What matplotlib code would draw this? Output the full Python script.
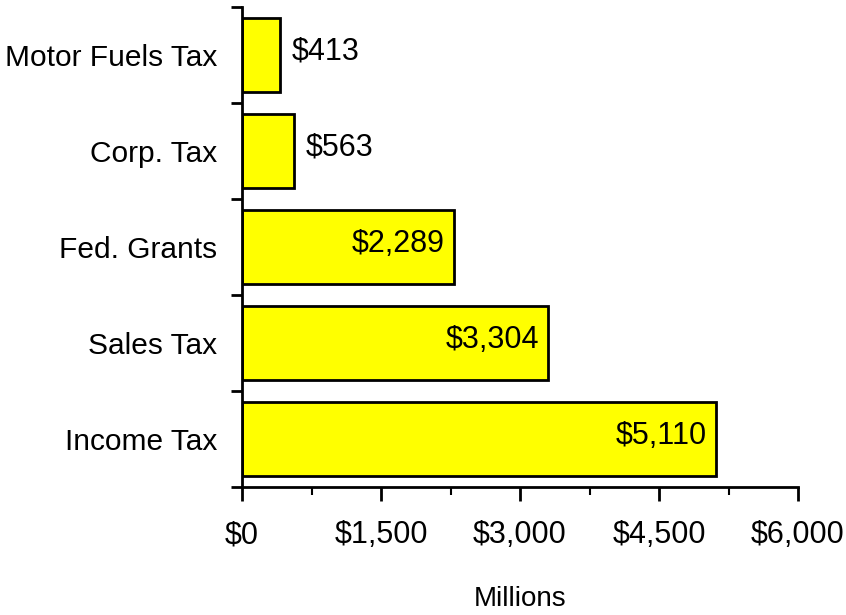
import matplotlib
matplotlib.use("Agg")
import matplotlib.pyplot as plt
from matplotlib.ticker import FuncFormatter, MultipleLocator

plt.rcParams['font.family'] = ['Liberation Sans', 'DejaVu Sans']

categories = ["Income Tax", "Sales Tax", "Fed. Grants", "Corp. Tax", "Motor Fuels Tax"]
revenue = [5110, 3304, 2289, 563, 413]
x_ticks = [0, 1500, 3000, 4500, 6000]

fig = plt.figure(figsize=(8.46, 6.15), dpi=100)
ax = fig.add_axes([242 / 846, 1 - 487 / 615, 556 / 846, 480 / 615])

pos = list(range(len(categories)))
ax.barh(pos, revenue, height=0.77, color="#ffff00", edgecolor="black", linewidth=2)

# value labels: inside the bar when it is wide enough, otherwise just past its end
for y, v in zip(pos, revenue):
    txt = f"${v:,}"
    if v > 1500:
        ax.annotate(txt, (v, y), xytext=(-6.5, 2.5), textcoords="offset points",
                    ha="right", va="center", fontsize=22)
    else:
        ax.annotate(txt, (v, y), xytext=(8, 2.5), textcoords="offset points",
                    ha="left", va="center", fontsize=22)

ax.set_xlim(0, 6000)
ax.set_ylim(-0.5, len(categories) - 0.5)

ax.set_xticks(x_ticks)
ax.xaxis.set_minor_locator(MultipleLocator(750))
ax.xaxis.set_major_formatter(FuncFormatter(lambda v, p: f"${v:,.0f}"))
ax.tick_params(axis="x", which="major", length=10, width=2, pad=14, labelsize=22)
ax.tick_params(axis="x", which="minor", length=6, width=1.5)

# category names at bar centres, tick marks between categories
ax.set_yticks(pos)
ax.set_yticklabels(categories)
ax.set_yticks([p - 0.5 for p in pos] + [len(pos) - 0.5], minor=True)
ax.tick_params(axis="y", which="major", length=0, pad=18, labelsize=21.5)
ax.tick_params(axis="y", which="minor", length=8, width=2)

for side in ["top", "right"]:
    ax.spines[side].set_visible(False)
for side in ["left", "bottom"]:
    ax.spines[side].set_linewidth(2)

ax.set_xlabel("Millions", fontsize=20, labelpad=26)

fig.savefig("out.png", dpi=100)
